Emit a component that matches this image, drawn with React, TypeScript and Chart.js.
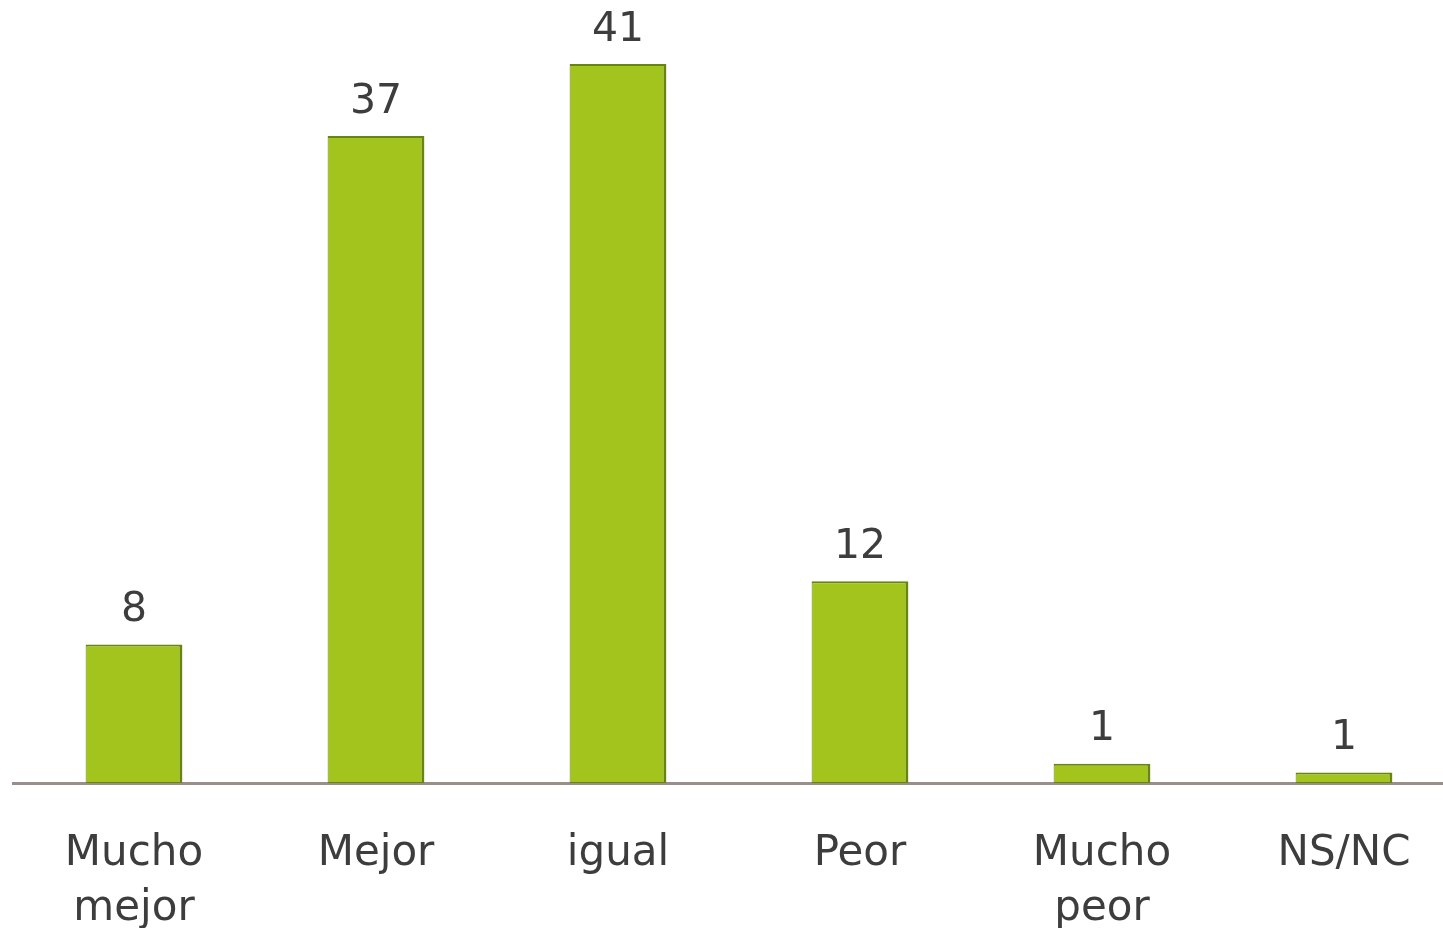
import React, { useEffect, useRef } from "react";
import { Chart, registerables } from "chart.js";

Chart.register(...registerables);

const categories: (string | string[])[] = [
  ["Mucho", "mejor"],
  "Mejor",
  "igual",
  "Peor",
  ["Mucho", "peor"],
  "NS/NC",
];
const values = [7.9, 36.9, 41, 11.5, 1.1, 0.6];
const valueLabels = ["8", "37", "41", "12", "1", "1"];

const FONT = "'DejaVu Sans', sans-serif";

const valueLabelPlugin = {
  id: "valueLabels",
  afterDatasetsDraw(chart: any) {
    const ctx = chart.ctx;
    const meta = chart.getDatasetMeta(0);
    ctx.save();
    ctx.fillStyle = "#3d3d3d";
    ctx.font = `41px ${FONT}`;
    ctx.textAlign = "center";
    ctx.textBaseline = "middle";
    meta.data.forEach((bar: any, i: number) => {
      ctx.fillText(valueLabels[i], bar.x, bar.y - 34);
    });
    ctx.restore();
  },
};

export default function App() {
  const ref = useRef<HTMLCanvasElement | null>(null);
  useEffect(() => {
    if (!ref.current) return;
    const chart = new Chart(ref.current, {
      type: "bar",
      data: {
        labels: categories,
        datasets: [
          {
            data: values,
            backgroundColor: "#a3c41d",
            borderColor: "#68850f",
            borderWidth: { top: 2, right: 3, bottom: 1, left: 1 },
            borderSkipped: false,
            categoryPercentage: 1,
            barPercentage: 0.4,
          },
        ],
      },
      options: {
        animation: false,
        responsive: false,
        maintainAspectRatio: false,
        layout: { padding: { left: 13, right: 0, top: 0, bottom: 0 } },
        plugins: {
          legend: { display: false },
          tooltip: { enabled: false },
        },
        scales: {
          x: {
            grid: { display: false, drawTicks: false },
            border: { display: true, color: "#9a8e8a", width: 3 },
            ticks: {
              color: "#3d3d3d",
              font: { family: FONT, size: 42, lineHeight: 1.3 },
              padding: 44,
              maxRotation: 0,
              autoSkip: false,
            },
            afterFit: (scale: any) => {
              scale.height = 145;
            },
          },
          y: {
            display: false,
            min: 0,
            max: 44.65,
          },
        },
      },
      plugins: [valueLabelPlugin],
    });
    return () => chart.destroy();
  }, []);
  return (
    <div
      style={{
        position: "fixed",
        left: 0,
        top: 0,
        width: 1443,
        height: 928,
        overflow: "hidden",
        background: "#fff",
      }}
    >
      <canvas ref={ref} width={1465} height={928} style={{ display: "block" }} />
    </div>
  );
}
